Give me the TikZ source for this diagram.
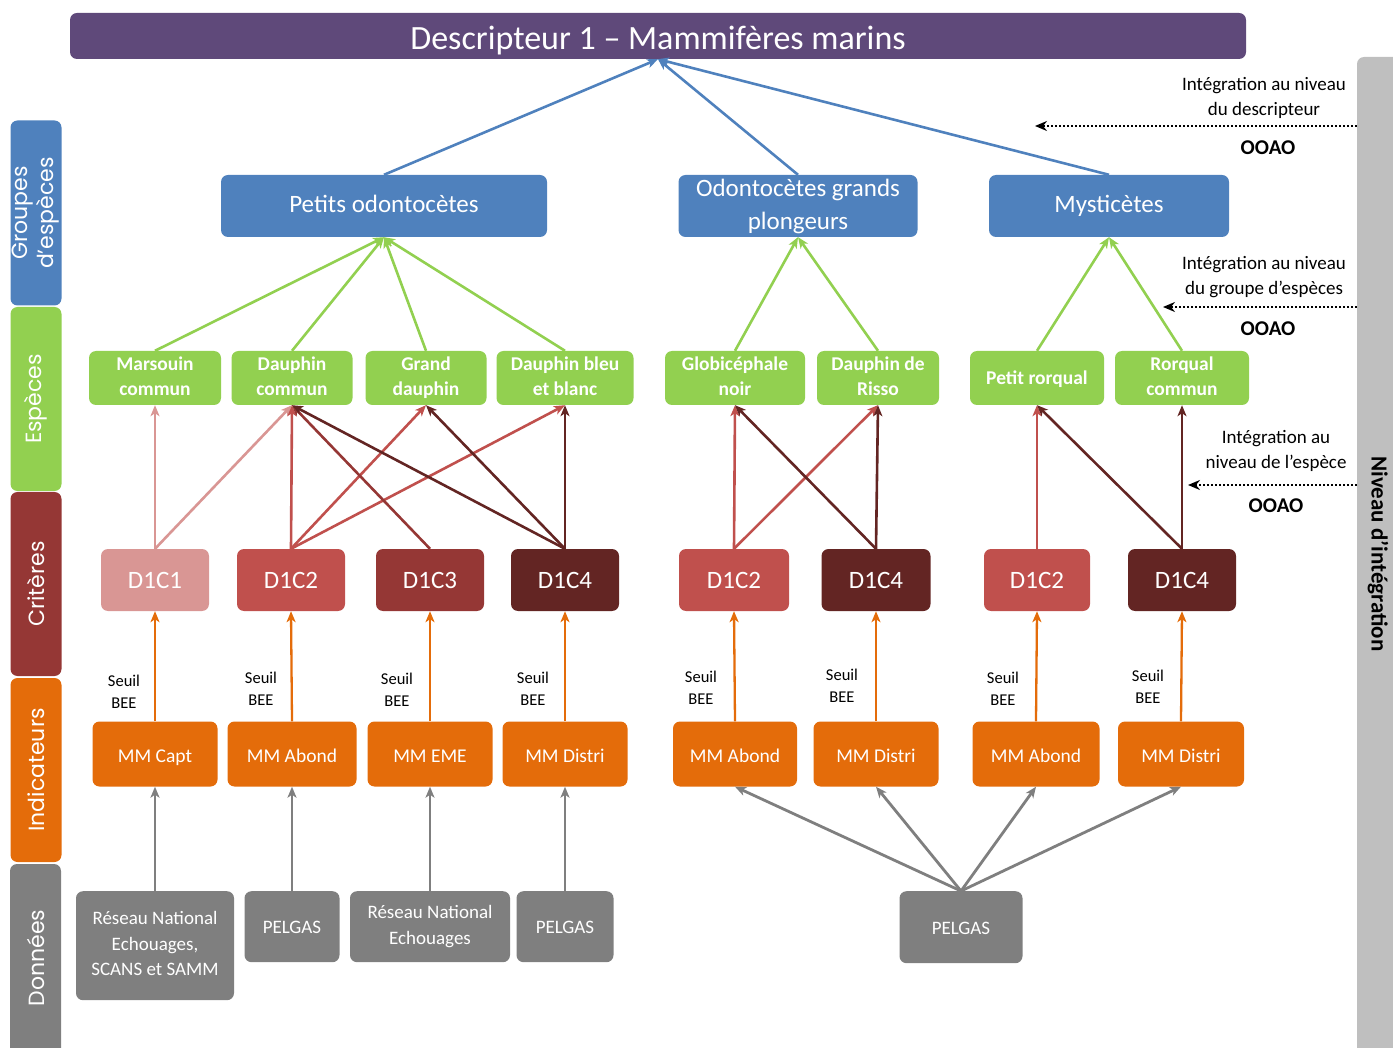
\documentclass[tikz,border=0pt]{standalone}
\usepackage{fontspec}
\setmainfont{Carlito}
\newfontfamily\bandfont{Poppins}
\usetikzlibrary{arrows.meta}
\newcommand\smallstrut{\rule[-4pt]{0pt}{22pt}}
\newcommand\bigstrut{\rule[-4pt]{0pt}{22pt}}
\definecolor{cPurple}{HTML}{5F497A}
\definecolor{cBlue}{HTML}{4F81BD}
\definecolor{cGreen}{HTML}{92D050}
\definecolor{cCa}{HTML}{D99694}
\definecolor{cCb}{HTML}{C0504D}
\definecolor{cCc}{HTML}{953735}
\definecolor{cCd}{HTML}{632523}
\definecolor{cOrange}{HTML}{E46C0A}
\definecolor{cGray}{HTML}{7F7F7F}
\definecolor{cBar}{HTML}{BFBFBF}
\tikzset{
  box/.style={rounded corners=7pt, inner sep=0pt, align=center, text=white},
  titlebox/.style={box, fill=cPurple, font={\fontsize{34}{40}\selectfont}, text height=28pt, text depth=0pt},
  grpbox/.style={box, fill=cBlue, minimum width=239pt, minimum height=62pt, font={\fontsize{25}{33}\selectfont}, execute at begin node=\bigstrut, execute at end node=\bigstrut},
  spbox/.style={box, fill=cGreen, minimum height=54pt, font={\bfseries\fontsize{19.5}{25}\selectfont}, execute at begin node=\smallstrut, execute at end node=\smallstrut},
  crbox/.style={box, minimum width=108pt, minimum height=62pt, font={\fontsize{25}{30}\selectfont}},
  indbox/.style={box, fill=cOrange, minimum width=125pt, minimum height=65pt, font={\fontsize{19.5}{24}\selectfont}, text height=18pt, text depth=2pt},
  databox/.style={box, fill=cGray, minimum height=71pt, font={\fontsize{19}{25.5}\selectfont}, execute at begin node=\smallstrut, execute at end node=\smallstrut},
  band/.style={rounded corners=7pt, inner sep=0pt, minimum height=51pt, align=center, text=white, rotate=90, font={\bandfont\fontsize{22}{26}\selectfont}},
  seuil/.style={align=center, inner sep=0pt, font={\fontsize{16.5}{22}\selectfont}},
  annot/.style={align=center, inner sep=0pt, font={\fontsize{19}{25}\selectfont}},
  ooao/.style={inner sep=0pt, font={\bfseries\fontsize{21}{25}\selectfont}},
  arr/.style={-{Stealth[length=11pt,width=9pt,inset=3pt]}, line width=2.6pt},
  dotarrow/.style={-{Stealth[length=12pt,width=10pt,inset=4pt]}, line width=2pt, dotted, black}
}
\begin{document}
\begin{tikzpicture}[x=1pt,y=-1pt]
\useasboundingbox (0,0) rectangle (1393,1048);
% right bar
\fill[cBar, rounded corners=7pt] (1357,57) rectangle (1410,1060);
\node[rotate=-90, font={\bfseries\fontsize{23}{27}\selectfont}] (niv) at (1378,554) {Niveau d’intégration};
% left bands
\node[band, fill=cBlue, minimum width=185pt] (b1) at (36,213) {Groupes\\d’espèces};
\node[band, fill=cGreen, minimum width=184pt] (b2) at (36,399) {Espèces};
\node[band, fill=cCc, minimum width=184pt] (b3) at (36,584) {Critères};
\node[band, fill=cOrange, minimum width=184pt] (b4) at (36,770) {Indicateurs};
\fill[cGray, rounded corners=7pt] (10,864) rectangle (61,1060);
\node[rotate=90, text=white, font={\bandfont\fontsize{22}{26}\selectfont}] (b5) at (36,958) {Données};
% title
\node[titlebox, minimum width=1176pt, minimum height=46pt] (t) at (658,36) {Descripteur 1 – Mammifères marins};
% groups
\node[grpbox, minimum width=326pt] (g1) at (384,206) {Petits odontocètes};
\node[grpbox] (g2) at (798,206) {Odontocètes grands\\plongeurs};
\node[grpbox, minimum width=240pt] (g3) at (1109,206) {Mysticètes};
% species
\node[spbox, minimum width=132pt] (s1) at (155,378) {Marsouin\\commun};
\node[spbox, minimum width=121pt] (s2) at (292,378) {Dauphin\\commun};
\node[spbox, minimum width=121pt] (s3) at (426,378) {Grand\\dauphin};
\node[spbox, minimum width=137pt] (s4) at (565,378) {Dauphin bleu\\et blanc};
\node[spbox, minimum width=140pt] (s5) at (735,378) {Globicéphale\\noir};
\node[spbox, minimum width=122pt] (s6) at (878,378) {Dauphin de\\Risso};
\node[spbox, minimum width=134pt] (s7) at (1037,378) {Petit rorqual};
\node[spbox, minimum width=134pt] (s8) at (1182,378) {Rorqual\\commun};
% criteria
\node[crbox, fill=cCa] (c1) at (155,580) {D1C1};
\node[crbox, fill=cCb] (c2) at (291,580) {D1C2};
\node[crbox, fill=cCc] (c3) at (430,580) {D1C3};
\node[crbox, fill=cCd] (c4) at (565,580) {D1C4};
\node[crbox, fill=cCb, minimum width=110pt] (c5) at (734,580) {D1C2};
\node[crbox, fill=cCd, minimum width=109pt] (c6) at (876,580) {D1C4};
\node[crbox, fill=cCb, minimum width=106pt] (c7) at (1037,580) {D1C2};
\node[crbox, fill=cCd] (c8) at (1182,580) {D1C4};
% indicators
\node[indbox] (i1) at (155,754) {MM Capt};
\node[indbox, minimum width=129pt] (i2) at (292,754) {MM Abond};
\node[indbox] (i3) at (430,754) {MM EME};
\node[indbox] (i4) at (565,754) {MM Distri};
\node[indbox, minimum width=124pt] (i5) at (735,754) {MM Abond};
\node[indbox] (i6) at (876,754) {MM Distri};
\node[indbox, minimum width=127pt] (i7) at (1036,754) {MM Abond};
\node[indbox, minimum width=126pt] (i8) at (1181,754) {MM Distri};
% data
\node[databox, minimum width=158pt, minimum height=109pt, anchor=north] (d1) at (155,891) {Réseau National\\Echouages,\\SCANS et SAMM};
\node[databox, minimum width=95pt, anchor=north] (d2) at (292,891) {PELGAS};
\node[databox, minimum width=160pt, anchor=north] (d3) at (430,891) {Réseau National\\Echouages};
\node[databox, minimum width=97pt, anchor=north] (d4) at (565,891) {PELGAS};
\node[databox, minimum width=123pt, minimum height=72pt, anchor=north] (d5) at (961,891) {PELGAS};
% seuil labels
\node[seuil] (l1) at (124,692) {Seuil\\BEE};
\node[seuil] (l2) at (261,689) {Seuil\\BEE};
\node[seuil] (l3) at (397,690) {Seuil\\BEE};
\node[seuil] (l4) at (533,689) {Seuil\\BEE};
\node[seuil] (l5) at (701,688) {Seuil\\BEE};
\node[seuil] (l6) at (842,686) {Seuil\\BEE};
\node[seuil] (l7) at (1003,689) {Seuil\\BEE};
\node[seuil] (l8) at (1148,687) {Seuil\\BEE};
% group -> title
\foreach \g in {g1,g2,g3} \draw[arr, cBlue] (\g.north) -- (t.south);
% species -> groups
\foreach \s in {s1,s2,s3,s4} \draw[arr, cGreen] (\s.north) -- (g1.south);
\foreach \s in {s5,s6} \draw[arr, cGreen] (\s.north) -- (g2.south);
\foreach \s in {s7,s8} \draw[arr, cGreen] (\s.north) -- (g3.south);
% criteria -> species
\draw[arr, cCa] (c1.north) -- (s1.south);
\draw[arr, cCa] (c1.north) -- (s2.south);
\foreach \s in {s2,s3,s4} \draw[arr, cCb] (c2.north) -- (\s.south);
\draw[arr, cCc] (c3.north) -- (s2.south);
\foreach \s in {s2,s3,s4} \draw[arr, cCd] (c4.north) -- (\s.south);
\foreach \s in {s5,s6} \draw[arr, cCb] (c5.north) -- (\s.south);
\foreach \s in {s5,s6} \draw[arr, cCd] (c6.north) -- (\s.south);
\draw[arr, cCb] (c7.north) -- (s7.south);
\foreach \s in {s7,s8} \draw[arr, cCd] (c8.north) -- (\s.south);
% indicators -> criteria
\foreach \n in {1,...,8} \draw[arr, cOrange, line width=2.3pt] (i\n.north) -- (c\n.south);
% data -> indicators
\foreach \n in {1,...,4} \draw[arr, cGray, line width=2.8pt] (d\n.north) -- (i\n.south);
\foreach \n in {5,...,8} \draw[arr, cGray, line width=2.8pt] (d5.north) -- (i\n.south);
% annotations
\node[annot] (a1) at (1264,98) {Intégration au niveau\\du descripteur};
\coordinate (a1s) at (1357,126);
\coordinate (a1e) at (1035,126);
\draw[dotarrow] (a1s) -- (a1e);
\node[ooao] (o1) at (1268,148) {OOAO};
\node[annot] (a2) at (1264,277) {Intégration au niveau\\du groupe d’espèces};
\coordinate (a2s) at (1357,307);
\coordinate (a2e) at (1163,307);
\draw[dotarrow] (a2s) -- (a2e);
\node[ooao] (o2) at (1268,329) {OOAO};
\node[annot] (a3) at (1276,451) {Intégration au\\niveau de l’espèce};
\coordinate (a3s) at (1357,485);
\coordinate (a3e) at (1188,485);
\draw[dotarrow] (a3s) -- (a3e);
\node[ooao] (o3) at (1276,506) {OOAO};
\end{tikzpicture}
\end{document}
